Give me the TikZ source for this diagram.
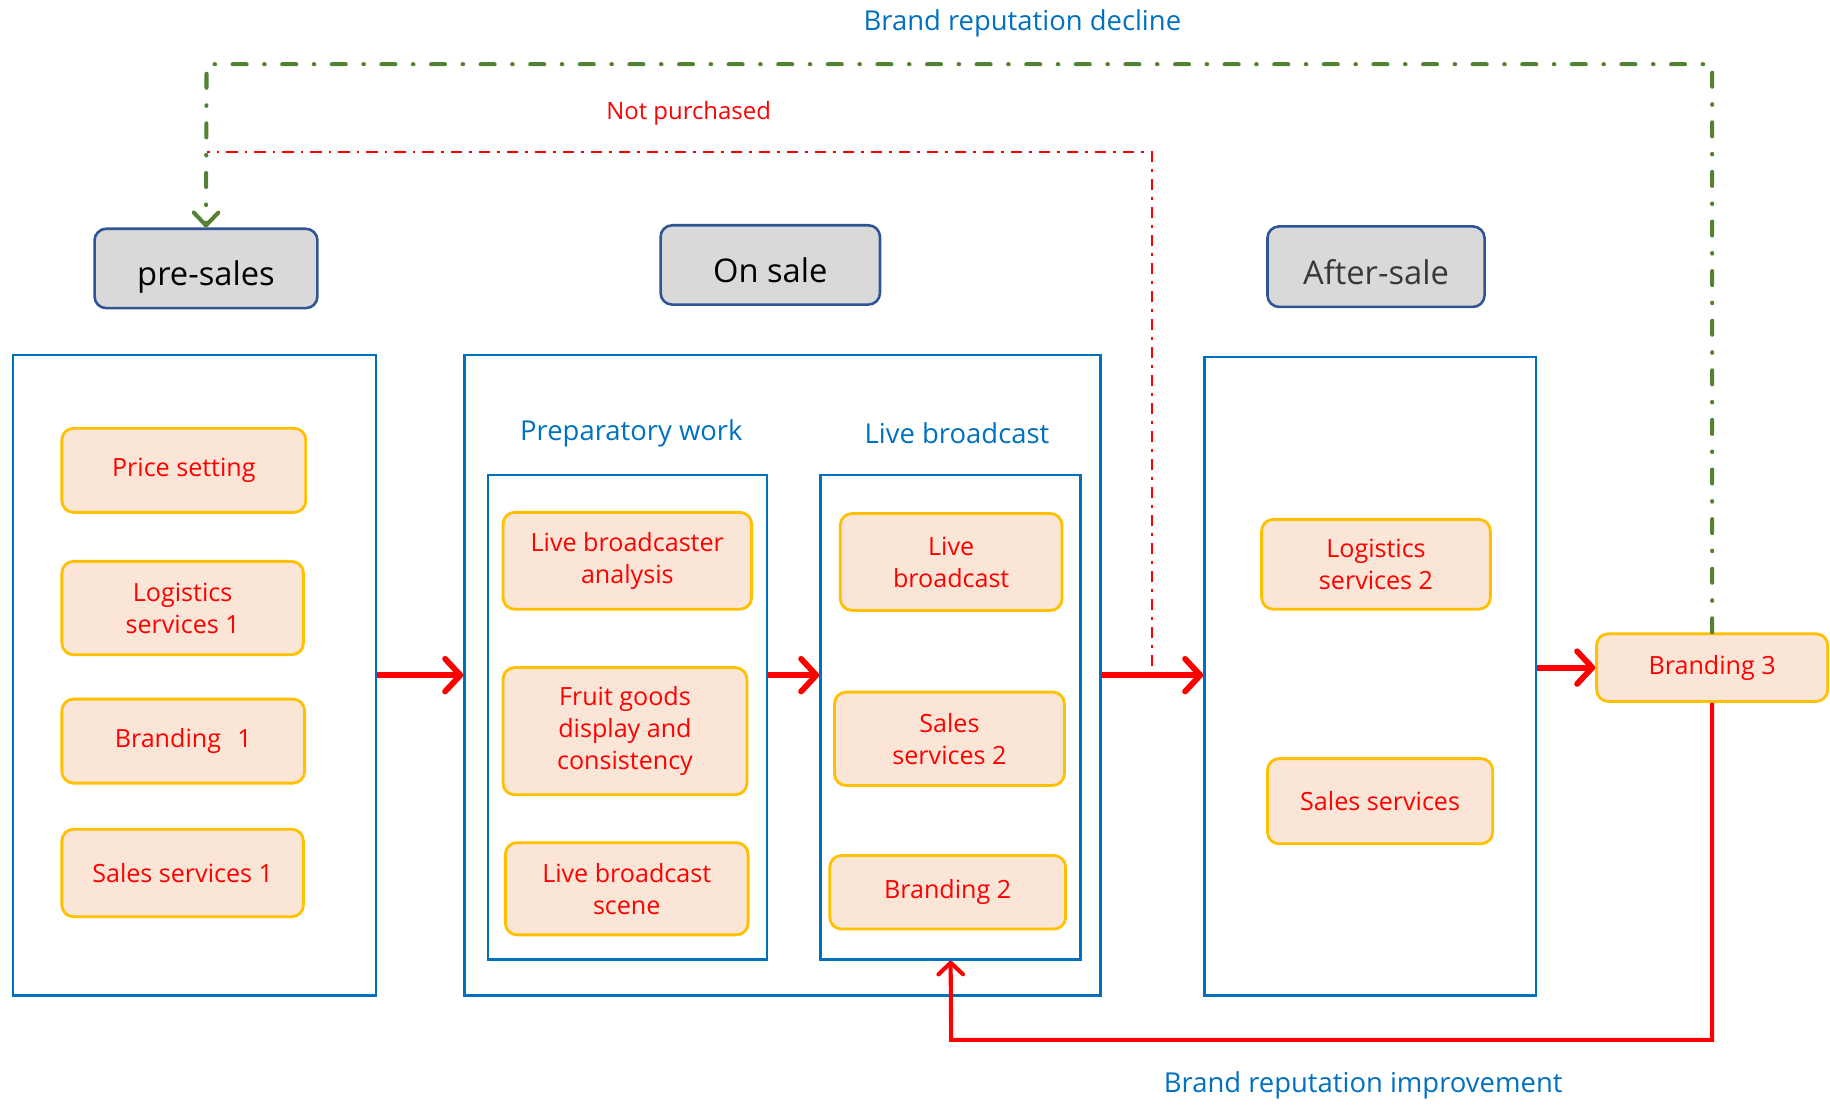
\documentclass[tikz,border=0pt]{standalone}
\usepackage{fontspec}
\setmainfont{Open Sans}
\usetikzlibrary{arrows.meta}
\definecolor{frameblue}{RGB}{0,112,192}
\definecolor{headline}{RGB}{47,85,151}
\definecolor{headfill}{RGB}{217,217,217}
\definecolor{itemfill}{RGB}{251,229,214}
\definecolor{itemline}{RGB}{255,192,0}
\definecolor{declgreen}{RGB}{84,130,53}
\begin{document}
\begin{tikzpicture}[x=1pt,y=-1pt,
 head/.style={draw=headline,fill=headfill,rounded corners=10pt,line width=2.2pt,
  text height=30pt,text depth=0pt,font=\fontsize{28}{32}\selectfont},
 frame/.style={draw=frameblue,line width=2.2pt},
 item/.style={draw=itemline,fill=itemfill,rounded corners=10pt,line width=2.4pt,
  text=red,align=center,font=\fontsize{21.5}{27.5}\selectfont},
 bluetxt/.style={text=frameblue,font=\fontsize{23.5}{28}\selectfont},
 bigarr/.style={draw=red,line width=5pt,-{Straight Barb[length=13pt,width=28pt,round]}},
 backarr/.style={draw=red,line width=3.5pt,-{Straight Barb[length=10pt,width=21pt,round]}},
 declineln/.style={draw=declgreen,line width=3.5pt,line cap=round,
  dash pattern=on 12pt off 15pt on 0.5pt off 15pt,
  -{Straight Barb[length=11pt,width=21pt,round]}},
 notpln/.style={draw=red,line width=2pt,dash pattern=on 10pt off 6pt on 2pt off 6pt}]
 \useasboundingbox (0,0) rectangle (1568,946);
 % headers
 \node[head,minimum width=191,minimum height=68] (pre) at (176.5,230) {pre-sales};
 \node[head,minimum width=188,minimum height=68] (ons) at (660,227) {On sale};
 \node[head,minimum width=186,minimum height=69,text=black!78] (aft) at (1179,228.5) {After-sale};
 % frames
 \node[frame,minimum width=311,minimum height=549] (F1) at (166.5,578.5) {};
 \node[frame,minimum width=545,minimum height=549] (F2) at (670.5,578.5) {};
 \node[frame,minimum width=284,minimum height=547] (F3) at (1174,579.5) {};
 \node[frame,minimum width=239,minimum height=415] (P) at (537.5,614.5) {};
 \node[frame,minimum width=223,minimum height=415] (L) at (814.5,614.5) {};
 \path
 (541,371) node[bluetxt] (prepL) {Preparatory work}
 (820,371) node[bluetxt] (liveL) {Live broadcast}
 (876,20) node[bluetxt] (declL) {Brand reputation decline}
 (1168,930) node[bluetxt] (imprL) {Brand reputation improvement}
 (590,97) node[text=red,font=\fontsize{20.5}{24}\selectfont] (notpL) {Not purchased};
 \path % <<< pre-sales
 (157.5,403) node[item,minimum width=209,minimum height=72] (price) {Price setting}
 (156.5,521) node[item,minimum width=207,minimum height=80] (log1) {Logistics\\services 1}
 (157,635) node[item,minimum width=208,minimum height=72] (brand1) {Branding\hspace{14pt}1}
 (156.5,748) node[item,minimum width=207,minimum height=75] (sales1) {Sales services 1};
 \path % <<< on sale
 (537.5,480.5) node[item,minimum width=213,minimum height=83] (lba) {Live broadcaster\\analysis}
 (535.5,626.5) node[item,minimum width=209,minimum height=109] (fruit) {Fruit goods\\display and\\consistency}
 (537,761.5) node[item,minimum width=208,minimum height=79] (lbs) {Live broadcast\\scene}
 (815,481.5) node[item,minimum width=190,minimum height=83] (live) {Live\\broadcast}
 (813.5,633) node[item,minimum width=197,minimum height=80] (sales2) {Sales\\services 2}
 (812,764.5) node[item,minimum width=202,minimum height=63] (brand2) {Branding 2};
 \path % <<< after-sale
 (1179,483.5) node[item,minimum width=196,minimum height=77] (log2) {Logistics\\services 2}
 (1182.5,686.5) node[item,minimum width=193,minimum height=73] (salesA) {Sales services}
 (1467,572) node[item,minimum width=198,minimum height=58] (brand3) {Branding 3};
 \coordinate (gc) at (177,55);
 \coordinate (np) at (987,571);
 \coordinate (npt) at (987,130);
 \coordinate (fb) at (815,891);
 \begin{scope}
 \draw[bigarr] (F1.east) -- (F2.west);
 \draw[bigarr] (P.east |- F1.east) -- (L.west |- F1.east);
 \draw[bigarr] (F2.east) -- (F2.east -| F3.west);
 \draw[bigarr] (F3.east |- brand3.west) -- (brand3.west);
 \draw[backarr] (brand3.south) |- (fb) -- (L.south);
 \draw[notpln] (np) -- (npt) -- (npt -| gc);
 \draw[declineln] (brand3.north) |- (gc) -- (pre.north);
 \end{scope}
\end{tikzpicture}
\end{document}
